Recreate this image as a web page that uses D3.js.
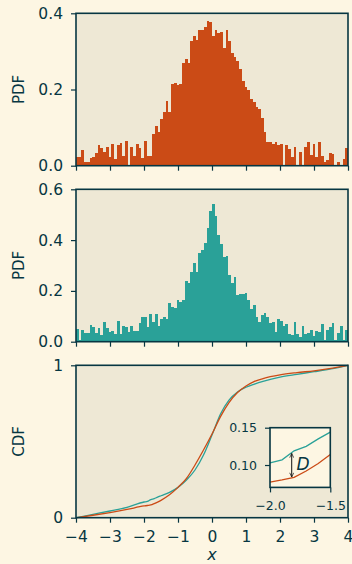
<!DOCTYPE html>
<html><head><meta charset="utf-8">
<script src="https://cdn.jsdelivr.net/npm/d3@7"></script>
<style>
html,body{margin:0;padding:0;background:#fdf6e3;}
svg{display:block;}
</style></head><body>
<svg id="chart" width="352" height="564"></svg>
<script>
// ---------- data ----------
const binStart = -4, binWidth = 0.08;
const pdfOrange = [
  0.024,0.024,0.042,0.0105,0.0105,0.021,0.024,0.034,0.055,0.047,
  0.037,0.050,0.024,0.058,0.018,0.055,0.060,0.026,0.066,0.003,
  0.050,0.026,0.058,0.047,0.021,0.066,0.026,0.026,0.084,0.103,
  0.089,0.123,0.142,0.171,0.142,0.215,0.218,0.213,0.215,0.270,
  0.280,0.270,0.328,0.341,0.331,0.355,0.357,0.365,0.381,0.378,
  0.341,0.357,0.349,0.352,0.310,0.357,0.326,0.297,0.286,0.276,
  0.255,0.221,0.207,0.200,0.176,0.168,0.155,0.150,0.126,0.089,
  0.063,0.063,0.058,0.063,0.055,0.058,0.003,0.055,0.045,0.024,
  0.050,0.000,0.037,0.000,0.050,0.063,0.029,0.058,0.024,0.063,
  0.026,0.0105,0.016,0.034,0.0315,0.000,0.0105,0.003,0.018,0.047
];
const pdfTeal = [
  0.050,0.007,0.046,0.034,0.034,0.066,0.058,0.034,0.054,0.026,
  0.077,0.054,0.038,0.042,0.030,0.081,0.030,0.062,0.058,0.038,
  0.062,0.042,0.042,0.074,0.097,0.097,0.058,0.109,0.078,0.109,
  0.062,0.089,0.097,0.089,0.152,0.136,0.131,0.164,0.156,0.164,
  0.239,0.231,0.274,0.310,0.274,0.349,0.361,0.389,0.448,0.515,
  0.542,0.495,0.420,0.385,0.333,0.337,0.263,0.231,0.255,0.184,
  0.188,0.188,0.192,0.164,0.129,0.144,0.097,0.077,0.105,0.113,
  0.097,0.074,0.077,0.038,0.089,0.081,0.062,0.070,0.030,0.026,
  0.077,0.030,0.018,0.062,0.030,0.034,0.046,0.022,0.042,0.038,
  0.070,0.007,0.046,0.058,0.074,0.007,0.034,0.062,0.007,0.046
];
const cdfX = [-4,-3.5,-3,-2.5,-2,-1.9,-1.8,-1.7,-1.6,-1.5,-1.25,-1,-0.75,-0.5,-0.25,0,0.25,0.5,0.75,1,1.25,1.5,2,2.5,3,3.5,4];
const cdfOrange = [0,0.016,0.034,0.054,0.077,0.080,0.0835,0.092,0.102,0.114,0.150,0.199,0.258,0.346,0.444,0.549,0.663,0.755,0.821,0.864,0.895,0.913,0.937,0.952,0.964,0.980,1];
const cdfTeal   = [0,0.022,0.044,0.068,0.103,0.107,0.119,0.125,0.135,0.144,0.166,0.199,0.247,0.313,0.411,0.543,0.681,0.772,0.825,0.856,0.877,0.895,0.923,0.941,0.958,0.976,1];
const xTicks = [-4,-3,-2,-1,0,1,2,3,4];
const pdf1Ticks = [0,0.2,0.4];
const pdf2Ticks = [0,0.2,0.4,0.6];
const cdfTicks = [0,1];
const insetXDomain = [-2,-1.5], insetYDomain = [0.07,0.15];
const insetXTicks = [-2,-1.5], insetYTicks = [0.10,0.15];
const dArrowX = -1.82;

// ---------- style ----------
const C = {bg:"#fdf6e3", panel:"#eee8d5", ink:"#073642", orange:"#cb4b16", teal:"#2aa198"};
const FONT = "'DejaVu Sans', sans-serif";

const svg = d3.select("#chart");
svg.append("rect").attr("width",352).attr("height",564).attr("fill",C.bg);

const x = d3.scaleLinear().domain([-4,4]).range([76,348]);

function styleAxis(g, size){
  g.attr("font-family",FONT).attr("font-size",size);
  g.select(".domain").remove();
  g.selectAll(".tick line").attr("stroke",C.ink).attr("stroke-width",1.2);
  g.selectAll(".tick text").attr("fill",C.ink);
}

function makePanel(top,bottom,ymax,yTicks,yFmt,label,showX){
  const y = d3.scaleLinear().domain([0,ymax]).range([bottom,top]);
  const g = svg.append("g");
  g.append("rect").attr("x",x(-4)).attr("y",top).attr("width",x(4)-x(-4)).attr("height",bottom-top).attr("fill",C.panel);
  const content = g.append("g");
  const gx = g.append("g").attr("transform",`translate(0,${bottom})`)
    .call(d3.axisBottom(x).tickValues(xTicks).tickSize(5).tickPadding(8)
      .tickFormat(showX ? d3.format("d") : () => ""));
  styleAxis(gx,15.5);
  const gy = g.append("g").attr("transform",`translate(${x(-4)},0)`)
    .call(d3.axisLeft(y).tickValues(yTicks).tickSize(5).tickPadding(8).tickFormat(d3.format(yFmt)));
  styleAxis(gy,15.5);
  g.append("text").attr("transform",`translate(24,${(top+bottom)/2}) rotate(-90)`)
    .attr("text-anchor","middle").attr("font-family",FONT).attr("font-size",15).attr("fill",C.ink).text(label);
  return {y,content,g,top,bottom};
}

function drawHist(p,vals,color){
  p.content.selectAll("rect.bar").data(vals).join("rect").attr("class","bar")
    .attr("x",(d,i)=>x(binStart+i*binWidth))
    .attr("width",(d,i)=>x(binStart+(i+1)*binWidth)-x(binStart+i*binWidth))
    .attr("y",d=>p.y(d)).attr("height",d=>p.y(0)-p.y(d))
    .attr("fill",color).attr("shape-rendering","crispEdges");
}
function spine(p){
  p.g.append("rect").attr("x",x(-4)).attr("y",p.top).attr("width",x(4)-x(-4)).attr("height",p.bottom-p.top)
    .attr("fill","none").attr("stroke",C.ink).attr("stroke-width",1.6);
}

const p1 = makePanel(13.3,165.7,0.4,pdf1Ticks,".1f","PDF",false);
drawHist(p1,pdfOrange,C.orange); spine(p1);
const p2 = makePanel(189.3,341.7,0.6,pdf2Ticks,".1f","PDF",false);
drawHist(p2,pdfTeal,C.teal); spine(p2);
const p3 = makePanel(365.3,517.7,1,cdfTicks,"d","CDF",true);

const cdfPts = cdfX.map((v,i)=>({x:v,o:cdfOrange[i],t:cdfTeal[i]}));
const lineT = d3.line().x(d=>x(d.x)).y(d=>p3.y(d.t)).curve(d3.curveMonotoneX);
const lineO = d3.line().x(d=>x(d.x)).y(d=>p3.y(d.o)).curve(d3.curveMonotoneX);
p3.content.append("path").attr("d",lineT(cdfPts)).attr("fill","none").attr("stroke",C.teal).attr("stroke-width",1.3);
p3.content.append("path").attr("d",lineO(cdfPts)).attr("fill","none").attr("stroke",C.orange).attr("stroke-width",1.3);
spine(p3);

// x label
svg.append("text").attr("x",x(0)).attr("y",560).attr("text-anchor","middle")
  .attr("font-family",FONT).attr("font-size",16).attr("font-style","italic").attr("fill",C.ink).text("x");

// ---------- inset ----------
const ix = d3.scaleLinear().domain(insetXDomain).range([270,330.3]);
const iy = d3.scaleLinear().domain(insetYDomain).range([487.4,427.7]);
const inset = svg.append("g");
inset.append("rect").attr("x",ix.range()[0]).attr("y",iy.range()[1]).attr("width",ix.range()[1]-ix.range()[0])
  .attr("height",iy.range()[0]-iy.range()[1]).attr("fill",C.bg);
const ipts = cdfPts.filter(d=>d.x>=insetXDomain[0]-1e-9 && d.x<=insetXDomain[1]+1e-9);
inset.append("path").attr("d",d3.line().x(d=>ix(d.x)).y(d=>iy(d.t))(ipts)).attr("fill","none").attr("stroke",C.teal).attr("stroke-width",1.3);
inset.append("path").attr("d",d3.line().x(d=>ix(d.x)).y(d=>iy(d.o))(ipts)).attr("fill","none").attr("stroke",C.orange).attr("stroke-width",1.3);
const tAt = d3.scaleLinear().domain(cdfX).range(cdfTeal)(dArrowX);
const oAt = d3.scaleLinear().domain(cdfX).range(cdfOrange)(dArrowX);
const defs = svg.append("defs");
defs.append("marker").attr("id","ah").attr("viewBox","0 0 10 10").attr("refX",9.5).attr("refY",5)
  .attr("markerWidth",5).attr("markerHeight",5).attr("orient","auto-start-reverse")
  .append("path").attr("d","M1,1 L9.5,5 L1,9").attr("fill","none").attr("stroke","#111").attr("stroke-width",1.4);
inset.append("line").attr("x1",ix(dArrowX)).attr("x2",ix(dArrowX)).attr("y1",iy(tAt)+0.8).attr("y2",iy(oAt)-0.8)
  .attr("stroke","#111").attr("stroke-width",1).attr("marker-start","url(#ah)").attr("marker-end","url(#ah)");
inset.append("text").attr("x",ix(-1.78)).attr("y",iy(0.0935)).attr("font-family",FONT).attr("font-size",17)
  .attr("font-style","italic").attr("fill",C.ink).text("D");
inset.append("rect").attr("x",ix.range()[0]).attr("y",iy.range()[1]).attr("width",ix.range()[1]-ix.range()[0])
  .attr("height",iy.range()[0]-iy.range()[1]).attr("fill","none").attr("stroke",C.ink).attr("stroke-width",1.6);
const igx = inset.append("g").attr("transform",`translate(0,${iy.range()[0]})`)
  .call(d3.axisBottom(ix).tickValues(insetXTicks).tickSize(5).tickPadding(9).tickFormat(d3.format(".1f")));
styleAxis(igx,12.5);
const igy = inset.append("g").attr("transform",`translate(${ix.range()[0]},0)`)
  .call(d3.axisLeft(iy).tickValues(insetYTicks).tickSize(5).tickPadding(8).tickFormat(d3.format(".2f")));
styleAxis(igy,12.5);
</script>
</body></html>
